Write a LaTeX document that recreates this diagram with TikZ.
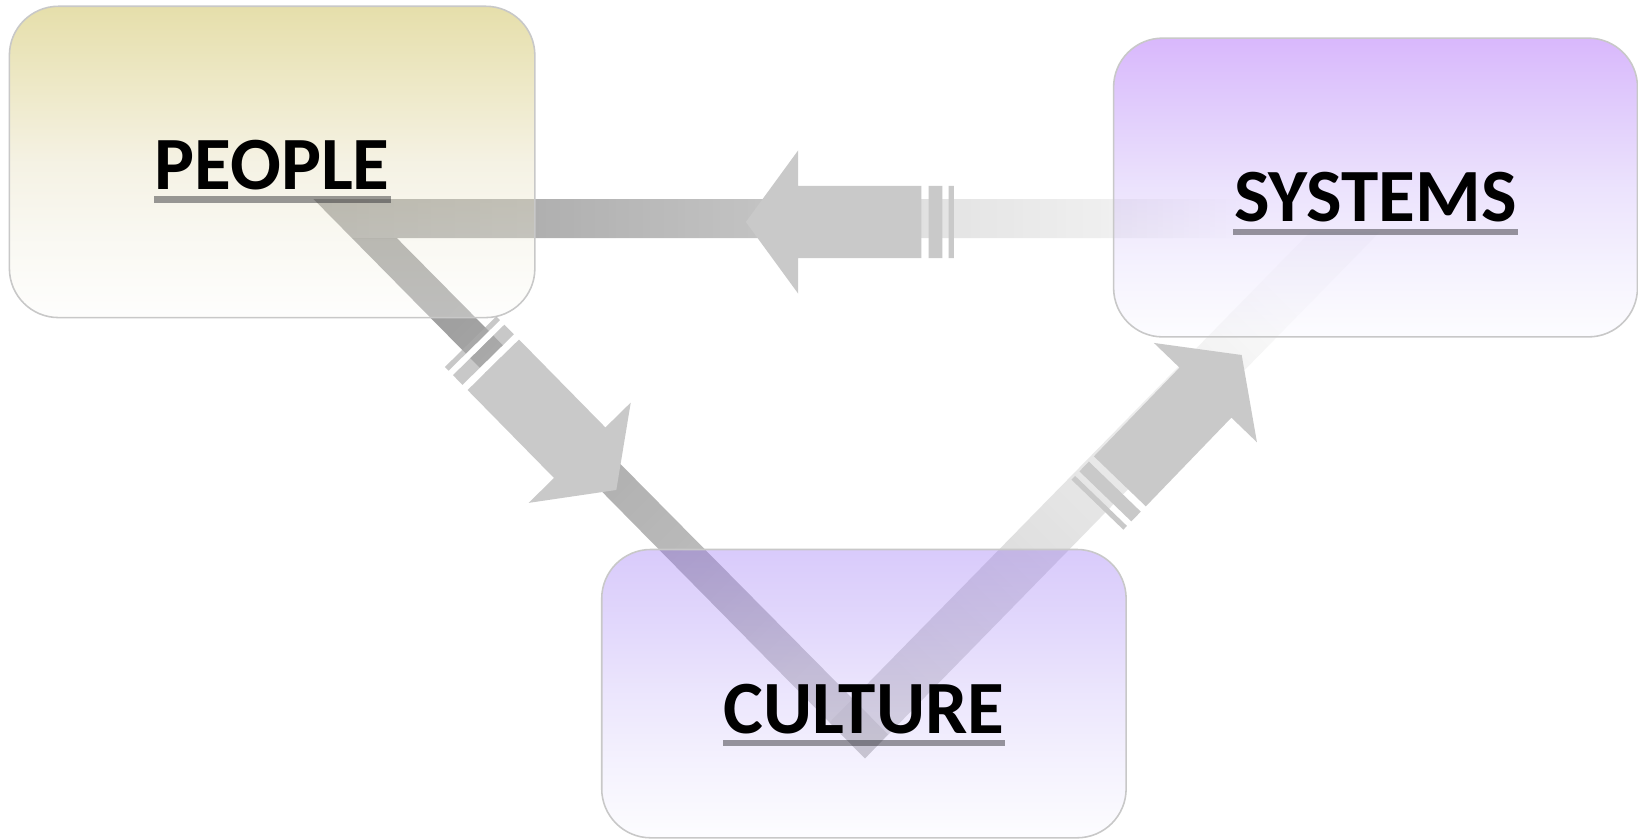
\documentclass[tikz,border=0pt]{standalone}
\usepackage{fontspec}
\setmainfont{Carlito}
\usetikzlibrary{calc}

% box gradients (stops are meant for a 1/3 fill opacity over the white page)
\definecolor{pplA}{RGB}{180,159,3}
\definecolor{pplB}{RGB}{204,189,90}
\definecolor{pplC}{RGB}{225,216,174}
\definecolor{pplD}{RGB}{240,237,219}
\definecolor{pplE}{RGB}{252,252,249}
\definecolor{sysA}{RGB}{141,42,246}
\definecolor{sysB}{RGB}{168,111,246}
\definecolor{sysC}{RGB}{198,171,249}
\definecolor{sysD}{RGB}{225,216,252}
\definecolor{sysE}{RGB}{249,249,255}
\definecolor{culA}{RGB}{141,99,243}
\definecolor{culB}{RGB}{168,138,246}
\definecolor{culC}{RGB}{198,180,249}
\definecolor{culD}{RGB}{225,219,252}
\definecolor{culE}{RGB}{249,249,255}
\definecolor{frame}{RGB}{200,200,200}
% translucent bands behind the boxes
\definecolor{bA0}{RGB}{105,105,105}
\definecolor{bA1}{RGB}{123,123,123}
\definecolor{bA2}{RGB}{160,160,160}
\definecolor{bA3}{RGB}{210,210,210}
\definecolor{bA4}{RGB}{230,230,230}
\definecolor{bBtop}{RGB}{95,95,95}
\definecolor{bBbot}{RGB}{163,163,163}
\definecolor{bCtop}{RGB}{247,247,247}
\definecolor{bCbot}{RGB}{183,183,183}
% striped arrows and underlines
\definecolor{arrowgray}{RGB}{201,201,201}
\definecolor{stripegray}{RGB}{172,172,172}
\definecolor{ulinegray}{RGB}{35,35,40}

\pgfdeclareverticalshading{peopleshade}{100bp}{color(0bp)=(pplE); color(25bp)=(pplE); color(37bp)=(pplD); color(50bp)=(pplC); color(62bp)=(pplB); color(75bp)=(pplA); color(100bp)=(pplA)}
\pgfdeclareverticalshading{systemsshade}{100bp}{color(0bp)=(sysE); color(25bp)=(sysE); color(37bp)=(sysD); color(50bp)=(sysC); color(62bp)=(sysB); color(75bp)=(sysA); color(100bp)=(sysA)}
\pgfdeclareverticalshading{cultureshade}{100bp}{color(0bp)=(culE); color(25bp)=(culE); color(37bp)=(culD); color(50bp)=(culC); color(62bp)=(culB); color(75bp)=(culA); color(100bp)=(culA)}
\pgfdeclarehorizontalshading{bandAshade}{100bp}{color(0bp)=(bA0); color(25bp)=(bA0); color(36.9bp)=(bA1); color(50.8bp)=(bA2); color(58.7bp)=(bA3); color(68bp)=(bA4); color(75bp)=(white); color(100bp)=(white)}

\tikzset{
  box/.style={draw=frame, line width=0.75pt, rounded corners=23.5pt, shade,
    fill opacity=0.3333, draw opacity=1, inner sep=0pt, outer sep=0pt},
  label text/.style={font=\fontsize{36}{43}\selectfont\bfseries, text=black,
    inner sep=0pt, outer sep=0pt, anchor=base},
  uline/.style={fill=ulinegray, fill opacity=0.45},
  band/.style={fill opacity=0.6},
  arrow body/.style={fill=arrowgray},
  arrow stripe/.style={fill=arrowgray},
  arrow gap/.style={},
  striped arrow/.pic={
    \path[arrow gap] (5,-34.5) rectangle (11,34.5) (24,-34.5) rectangle (31,34.5);
    \path[arrow stripe] (0,-34.5) rectangle (5,34.5) (11,-34.5) rectangle (24,34.5);
    \path[arrow body] (31,-34.5) -- (149,-34.5) -- (149,-68.5) -- (199,0)
      -- (149,68.5) -- (149,34.5) -- (31,34.5) -- cycle;
  }
}

\begin{document}
\begin{tikzpicture}[x=0.5pt, y=-0.5pt]
\useasboundingbox (0,0) rectangle (1568,803);
\fill[white] (0,0) rectangle (1568,803);

% band corner points
\coordinate (a1) at (300,190.5);
\coordinate (a2) at (1190,190.5);
\coordinate (a3) at (1190,228);
\coordinate (a4) at (337,228);
\coordinate (b2) at (380,228);
\coordinate (b3) at (850,703);
\coordinate (vee) at (828,726);
\coordinate (c1) at (1320.7,222);
\coordinate (c2) at (1254.4,222);
\coordinate (c3) at (794.1,691.6);

% translucent bands linking the three boxes
\shade[band, shading=bandAshade] (a1) -- (a2) -- (a3) -- (a4) -- cycle;
\shade[band, top color=bBtop, bottom color=bBbot, shading angle=45]
  (a4) -- (b2) -- (b3) -- (vee) -- cycle;
\shade[band, top color=bCtop, bottom color=bCbot, shading angle=-45]
  (vee) -- (c1) -- (c2) -- (c3) -- cycle;

% boxes
\node[box, shading=peopleshade, minimum width=251.5pt, minimum height=149pt]
  (people) at (260.5,155) {};
\node[box, shading=systemsshade, minimum width=250.75pt, minimum height=143pt]
  (systems) at (1316.75,179.5) {};
\node[box, shading=cultureshade, minimum width=251pt, minimum height=138pt]
  (culture) at (827,664) {};

% titles with underlines
\node[label text] (ptext) at ($(people.center)+(0,26.5)$) {PEOPLE};
\node[label text] (stext) at ($(systems.center)+(0,33)$) {SYSTEMS};
\node[label text] (ctext) at ($(culture.center)+(0,38)$) {CULTURE};
\foreach \t in {ptext,stext,ctext}
  \fill[uline] ($(\t.base west)+(-1,6.5)$) rectangle ($(\t.base east)+(1,12.5)$);

% striped arrows
\coordinate (tailH) at (913,212.5);
\coordinate (tailB) at (450.5,327.1);
\coordinate (tailC) at (1050.5,483.1);
\pic[rotate=180] at (tailH) {striped arrow};
\pic[rotate=-45.5, arrow gap/.style={fill=white},
     arrow stripe/.style={fill=stripegray, fill opacity=0.65}] at (tailB) {striped arrow};
\pic[rotate=46.05] at (tailC) {striped arrow};
\end{tikzpicture}
\end{document}
